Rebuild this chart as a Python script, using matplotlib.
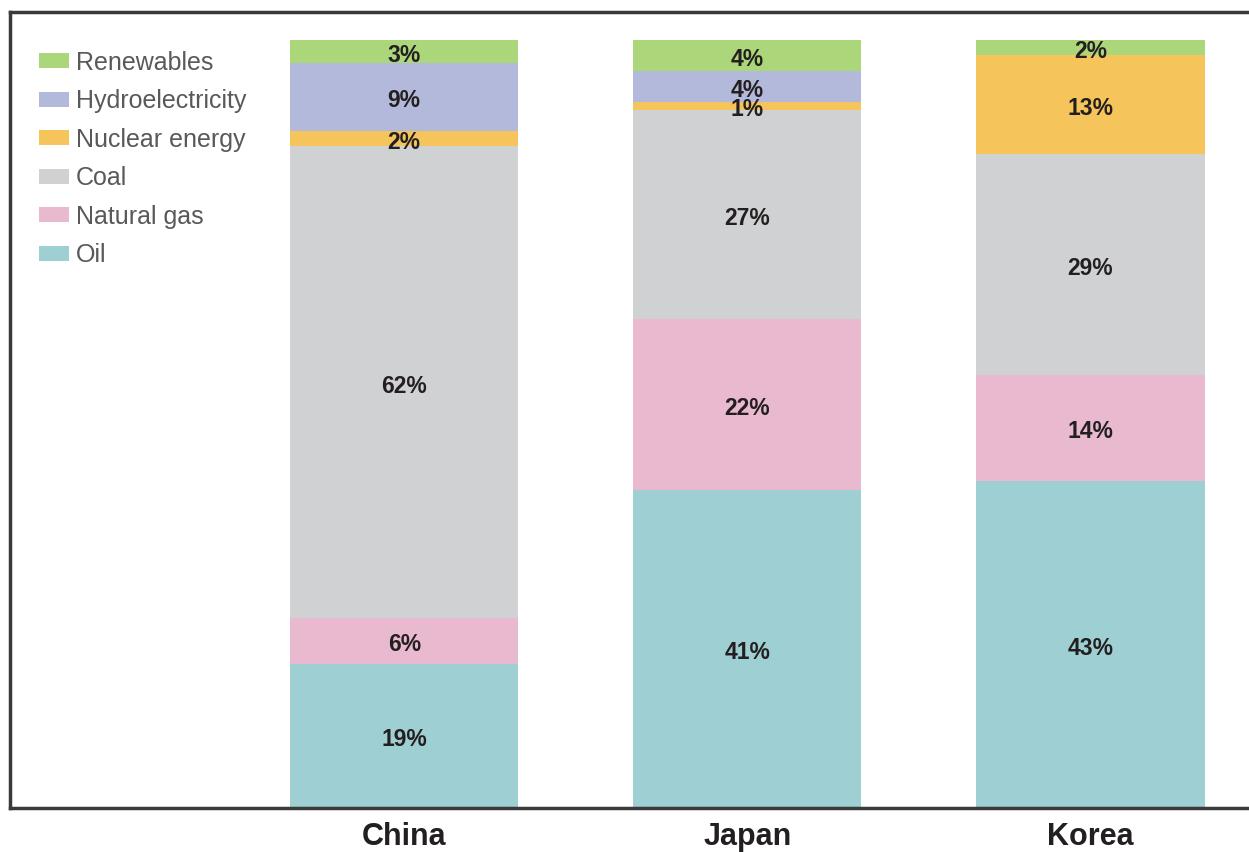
import numpy as np
import matplotlib
matplotlib.use("Agg")
import matplotlib.pyplot as plt
from matplotlib.patches import Patch

plt.rcParams['font.family'] = ['Liberation Sans Narrow', 'Liberation Sans', 'DejaVu Sans']

# Data: share of primary energy (%)
countries = ["China", "Japan", "Korea"]
sources = ["Oil", "Natural gas", "Coal", "Nuclear energy", "Hydroelectricity", "Renewables"]
oil = [19, 41, 43]
natural_gas = [6, 22, 14]
coal = [62, 27, 29]
nuclear = [2, 1, 13]
hydro = [9, 4, 0]
renewables = [3, 4, 2]

colors = ["#9ecfd3", "#e8b9cf", "#d0d1d3", "#f5c45a", "#b3b9da", "#acd67a"]

values = np.array([oil, natural_gas, coal, nuclear, hydro, renewables], dtype=float)
totals = values.sum(axis=0)
shares = values / totals * 100  # bars fill to 100%

fig = plt.figure(figsize=(12.49, 8.52), dpi=100)
ax = fig.add_axes([10 / 1249, 44 / 852, 1252 / 1249, 796 / 852])

x = np.arange(len(countries))
width = 0.665
bottom = np.zeros(len(countries))
for i, src in enumerate(sources):
    ax.bar(x, shares[i], width, bottom=bottom, color=colors[i], label=src,
           edgecolor="none")
    for j in range(len(countries)):
        if values[i, j] > 0:
            ax.text(x[j], bottom[j] + shares[i, j] / 2 - 0.5, f"{int(values[i, j])}%",
                    ha="center", va="center", fontsize=16.5, fontweight="bold",
                    color="#231f20")
    bottom += shares[i]

ax.set_xlim(-1.149, 2.5)
ax.set_ylim(0, 100 * 796 / 768)
ax.set_xticks(x)
ax.set_xticklabels(countries, fontsize=22, fontweight="bold", color="#231f20")
ax.tick_params(axis="x", length=0, pad=10)
ax.set_yticks([])
for sp in ax.spines.values():
    sp.set_linewidth(2.5)
    sp.set_color("#3a3a3a")

handles = [Patch(facecolor=colors[i], edgecolor="none") for i in range(len(sources))][::-1]
leg = ax.legend(handles, sources[::-1], loc="upper left", bbox_to_anchor=(0.0154, 0.964),
                frameon=False, fontsize=18, handlelength=1.2, handleheight=0.55,
                handletextpad=0.25, labelspacing=0.58, borderaxespad=0)
for t in leg.get_texts():
    t.set_color("#595959")

fig.savefig("out.png", dpi=100)
